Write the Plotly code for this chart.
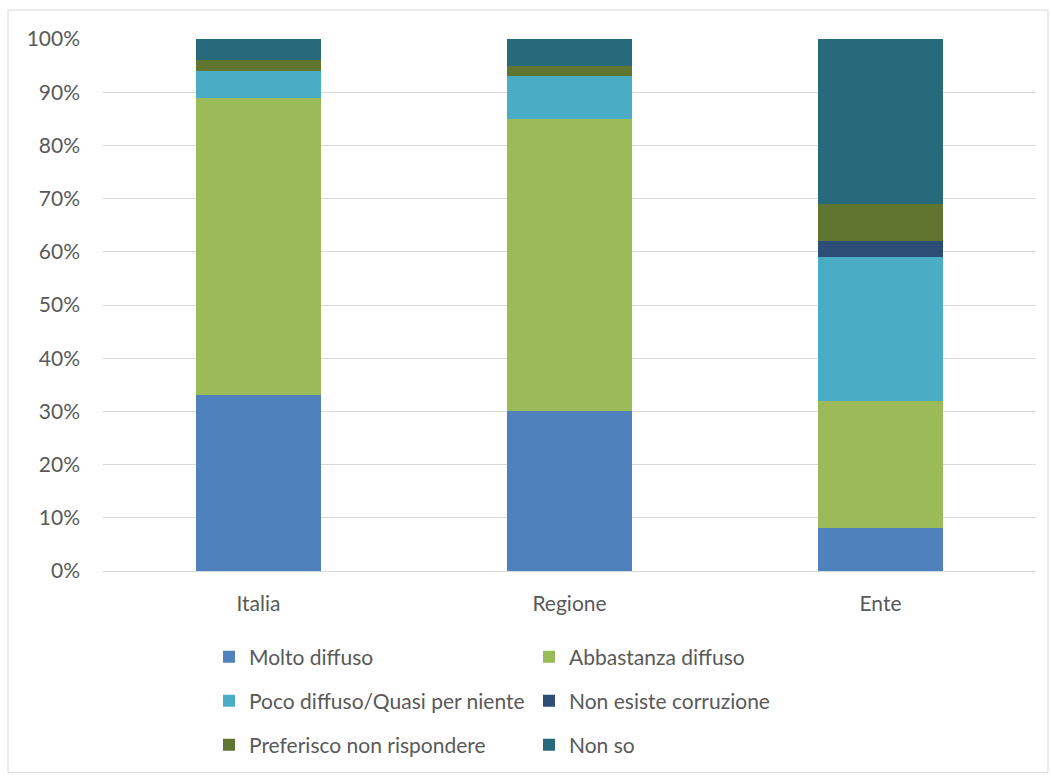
import plotly.graph_objects as go

categories = ["Italia", "Regione", "Ente"]
molto = [33, 30, 8]
abbastanza = [56, 55, 24]
poco = [5, 8, 27]
non_esiste = [0, 0, 3]
preferisco = [2, 2, 7]
non_so = [4, 5, 31]

series = [
    ("Molto diffuso", molto, "#4F81BD", "legend"),
    ("Abbastanza diffuso", abbastanza, "#9BBB59", "legend"),
    ("Poco diffuso/Quasi per niente", poco, "#4BACC6", "legend2"),
    ("Non esiste corruzione", non_esiste, "#2C4D75", "legend2"),
    ("Preferisco non rispondere", preferisco, "#5F7530", "legend3"),
    ("Non so", non_so, "#276A7C", "legend3"),
]

fig = go.Figure()
for name, vals, color, lg in series:
    fig.add_trace(go.Bar(
        x=categories, y=[v / 100 for v in vals], name=name,
        marker=dict(color=color, line=dict(width=0)),
        width=0.4, legend=lg,
    ))

W, H = 1051, 776
l, r, t, b = 103, 15, 39, 204
pw, ph = W - l - r, H - t - b

def px_x(x):
    return (x - l) / pw

def px_y(y):
    return (H - b - y) / ph

font = dict(family="Lato, Open Sans, sans-serif", size=21, color="#595959")
leg_common = dict(orientation="h", entrywidth=275, entrywidthmode="pixels",
                  xanchor="left", yanchor="middle", font=font,
                  bgcolor="rgba(0,0,0,0)", itemclick=False, traceorder="normal")

fig.update_layout(
    width=W, height=H,
    margin=dict(l=l, r=r, t=t, b=b),
    barmode="stack",
    bargap=0.6,
    plot_bgcolor="white", paper_bgcolor="white",
    font=font,
    showlegend=True,
    legend=dict(x=px_x(209), y=px_y(657), **leg_common),
    legend2=dict(x=px_x(209), y=px_y(701), **leg_common),
    legend3=dict(x=px_x(209), y=px_y(745), **leg_common),
    xaxis=dict(showgrid=False, showline=True, linecolor="#D9D9D9", linewidth=1,
               ticks="", tickfont=font, ticklabelstandoff=14),
    yaxis=dict(range=[0, 1], tickformat=".0%", dtick=0.1, showgrid=True,
               gridcolor="#D9D9D9", gridwidth=1, zeroline=False, showline=False,
               ticks="", tickfont=font, ticklabelstandoff=22),
    shapes=[dict(type="rect", xref="paper", yref="paper",
                 x0=px_x(8), x1=px_x(1048), y0=px_y(774), y1=px_y(10),
                 line=dict(color="#D9D9D9", width=1), layer="below")],
)

fig.write_html("out.html")
